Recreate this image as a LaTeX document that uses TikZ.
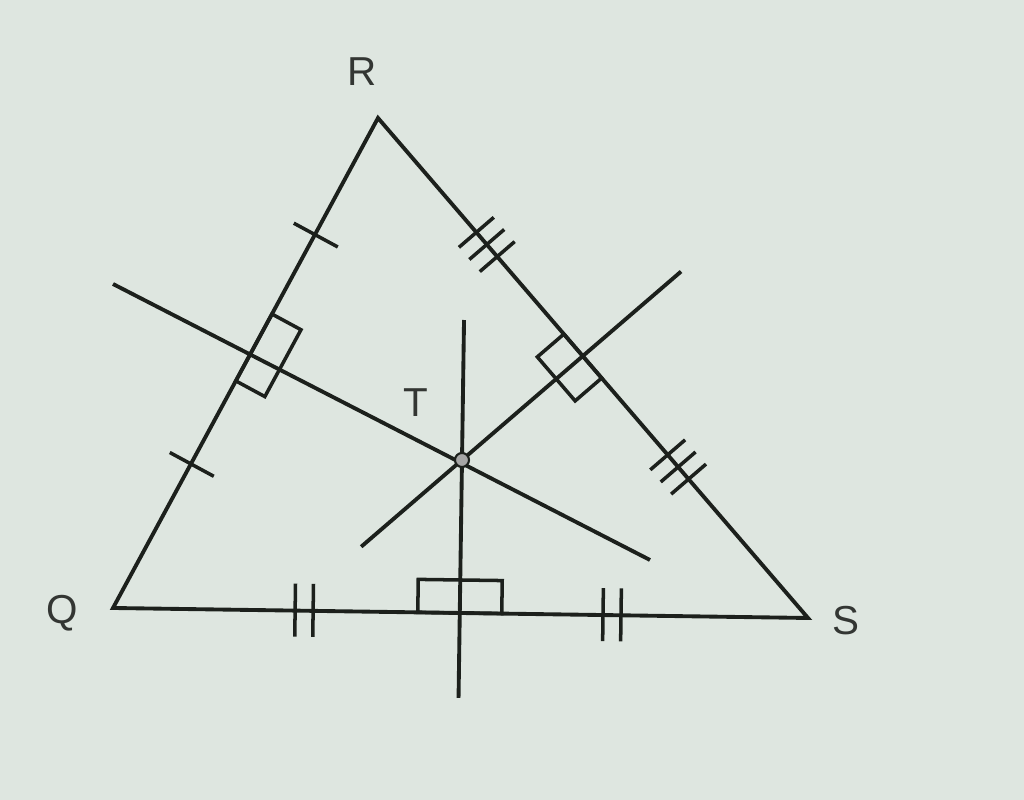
\documentclass[tikz,border=0pt]{standalone}
\usepackage{fontspec}
\setmainfont{Liberation Sans}
\usetikzlibrary{calc}

\definecolor{papel}{RGB}{222,230,224}
\definecolor{tinta}{RGB}{28,32,28}

\tikzset{
    lado/.style={draw=tinta, line width=1.1pt, line cap=round},
    recta/.style={draw=tinta, line width=1.1pt},
    marca/.style={draw=tinta, line width=1pt},
    etiqueta/.style={font=\fontsize{11.5}{14}\selectfont, text=tinta!90}
}

\begin{document}
\begin{tikzpicture}
    % Fondo
    \fill[papel] (0,0) rectangle (10.24,8.00);
    \useasboundingbox (0,0) rectangle (10.24,8.00);

    % Vertices y circuncentro
    \coordinate (Q) at (1.13,1.92);
    \coordinate (R) at (3.78,6.82);
    \coordinate (S) at (8.08,1.82);
    \coordinate (T) at (4.62,3.40);

    % Pies de las mediatrices
    \coordinate (mQS) at ($(Q)!(T)!(S)$);
    \coordinate (mQR) at ($(Q)!(T)!(R)$);
    \coordinate (mRS) at ($(R)!(T)!(S)$);

    % Extremos de las mediatrices
    \coordinate (aQS) at ($(T)!-1.40cm!(mQS)$);
    \coordinate (bQS) at ($(T)!2.38cm!(mQS)$);
    \coordinate (aQR) at (1.13,5.16);
    \coordinate (bQR) at (6.50,2.40);
    \coordinate (aRS) at ($(T)!2.89cm!(mRS)$);
    \coordinate (bRS) at ($(T)!-1.33cm!(mRS)$);

    % Triangulo
    \draw[lado] (Q) -- (R) -- (S) -- cycle;

    % Mediatrices
    \draw[recta] (aQS) -- (bQS);
    \draw[recta] (aQR) -- (bQR);
    \draw[recta] (aRS) -- (bRS);

    % Angulos rectos
    \begin{scope}[shift={(mQS)}, rotate=-0.8]
        \draw[marca] (-0.42,0) rectangle (0.42,0.33);
    \end{scope}
    \begin{scope}[shift={(mQR)}, rotate=61.6]
        \draw[marca] (-0.38,0) rectangle (0.38,-0.33);
    \end{scope}
    \begin{scope}[shift={(mRS)}, rotate=-49.3]
        \draw[marca] (-0.29,0) rectangle (0.29,-0.35);
    \end{scope}

    % Marcas de lados iguales
    \foreach \f in {0.294,0.762}{
        \begin{scope}[shift={($(Q)!\f!(R)$)}, rotate=61.6]
            \draw[marca] (0,-0.26) -- (0,0.24);
        \end{scope}
    }
    \foreach \f in {0.275,0.718}{
        \begin{scope}[shift={($(Q)!\f!(S)$)}, rotate=-0.8]
            \foreach \d in {-0.09,0.09}
                \draw[marca] (\d,-0.26) -- (\d,0.27);
        \end{scope}
    }
    \foreach \f in {0.253,0.698}{
        \begin{scope}[shift={($(R)!\f!(S)$)}, rotate=-49.3]
            \foreach \d in {-0.16,0,0.16}
                \draw[marca] (\d,-0.23) -- (\d,0.23);
        \end{scope}
    }

    % Punto T
    \filldraw[fill=gray!70, draw=tinta, line width=0.6pt] (T) circle (0.07);

    % Etiquetas
    \node[etiqueta] (lR) at (3.62,7.28) {R};
    \node[etiqueta] (lQ) at (0.62,1.87) {Q};
    \node[etiqueta] (lS) at (8.46,1.79) {S};
    \node[etiqueta] (lT) at (4.16,3.97) {T};
\end{tikzpicture}
\end{document}
